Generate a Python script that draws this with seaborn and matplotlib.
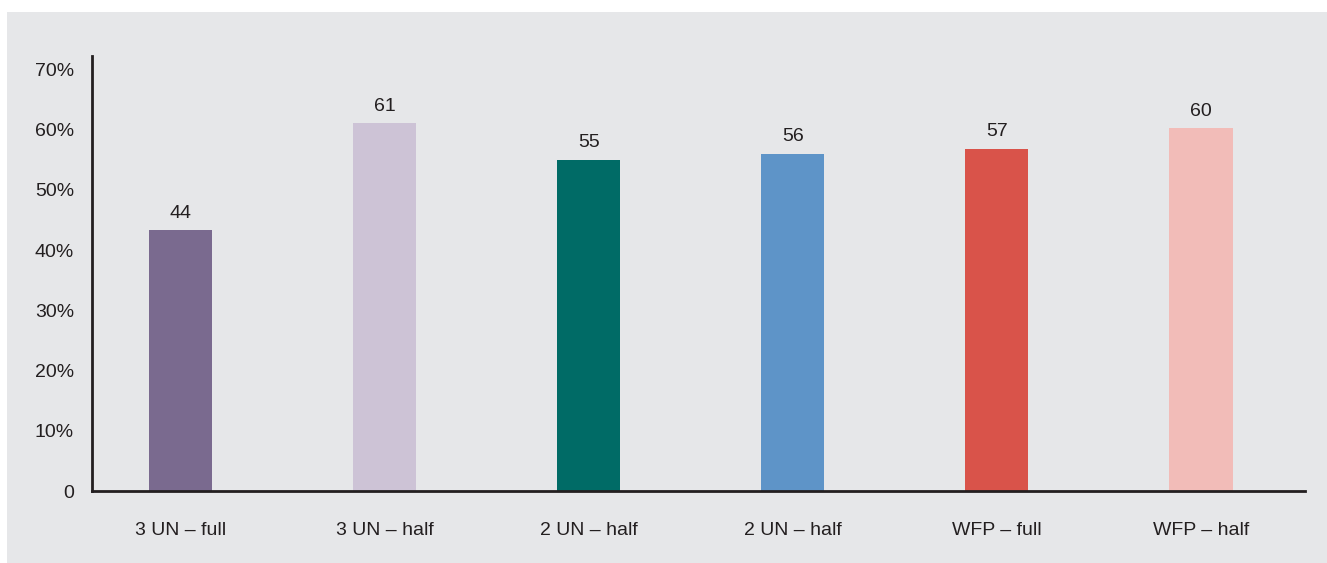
import matplotlib.pyplot as plt
import matplotlib.patches as mpatches
from matplotlib import font_manager
import seaborn as sns

# data
categories = ["3 UN – full", "3 UN – half", "2 UN – half", "2 UN – half", "WFP – full", "WFP – half"]
values = [43.3, 61.0, 55.0, 56.0, 56.8, 60.2]
bar_labels = ["44", "61", "55", "56", "57", "60"]
colors = ["#7a6a8f", "#cdc3d6", "#006b66", "#5e94c8", "#d9534a", "#f2bcb8"]
ytick_vals = [0, 10, 20, 30, 40, 50, 60, 70]
ytick_labels = ["0", "10%", "20%", "30%", "40%", "50%", "60%", "70%"]

sns.set_style("white")
names = {f.name for f in font_manager.fontManager.ttflist}
fam = "Liberation Sans Narrow" if "Liberation Sans Narrow" in names else "Liberation Sans"
plt.rcParams["font.family"] = [fam, "DejaVu Sans"]

W, H = 1327, 563
fig = plt.figure(figsize=(W / 100, H / 100), dpi=100)
fig.patch.set_facecolor("white")
bg = "#e6e7e9"
# grey panel behind the chart
fig.patches.append(mpatches.Rectangle((7 / W, 0), 1, 1 - 12 / H, transform=fig.transFigure,
                                      facecolor=bg, edgecolor="none", zorder=-10))

ax = fig.add_axes([92 / W, 1 - 491 / H, (1305 - 92) / W, (491 - 56) / H])
ax.set_zorder(1)
ax.patch.set_alpha(0)

pos = list(range(len(categories)))
sns.barplot(x=pos, y=values, hue=pos, palette=colors, legend=False, width=0.31,
            saturation=1, linewidth=0, ax=ax)

for i, (v, lab) in enumerate(zip(values, bar_labels)):
    ax.text(i, v + 1.4, lab, ha="center", va="bottom", fontsize=14, color="#231f20")

ax.set_xlim(-0.434, 5.51)
ax.set_ylim(0, 72.2)
ax.set_yticks(ytick_vals)
ax.set_yticklabels(ytick_labels)
ax.set_xticks(pos)
ax.set_xticklabels(categories)
ax.tick_params(axis="both", length=0, labelsize=14, labelcolor="#231f20")
ax.tick_params(axis="y", pad=13)
ax.tick_params(axis="x", pad=22)
ax.set_xlabel("")
ax.set_ylabel("")

for s in ["top", "right"]:
    ax.spines[s].set_visible(False)
for s in ["left", "bottom"]:
    ax.spines[s].set_color("#231f20")
    ax.spines[s].set_linewidth(2)

fig.savefig("out.png", dpi=100, facecolor=fig.get_facecolor())
